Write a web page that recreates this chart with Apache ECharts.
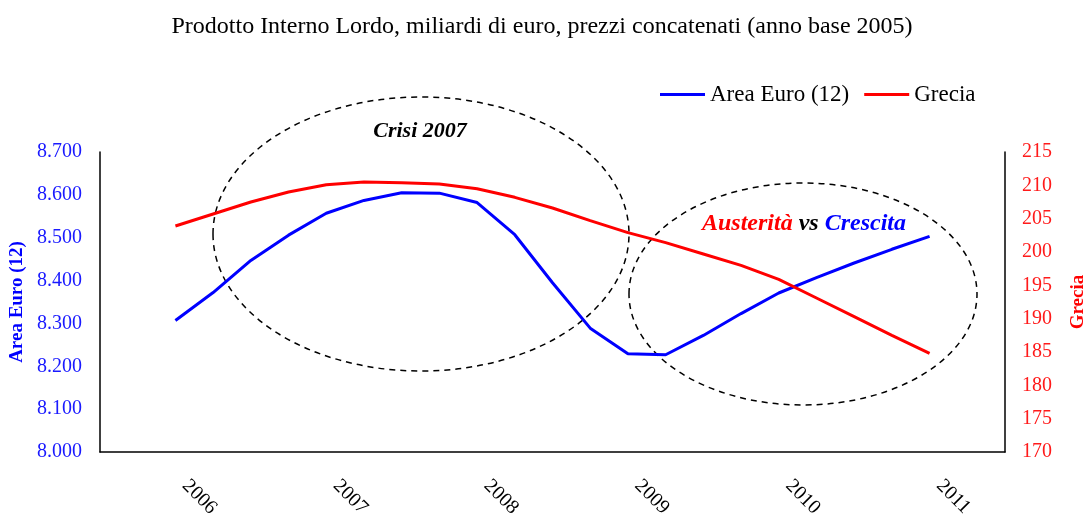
<!DOCTYPE html>
<html>
<head>
<meta charset="utf-8">
<script src="https://cdn.jsdelivr.net/npm/echarts@6/dist/echarts.min.js"></script>
<style>
  html, body { margin: 0; padding: 0; background: #fff; }
  #chart { width: 1084px; height: 520px; }
</style>
</head>
<body>
<div id="chart"></div>
<script>
// quarters on the axis (first two and last two are empty padding)
var quarters = ['2005 T3', '2005 T4',
  '2006 T1', '2006 T2', '2006 T3', '2006 T4',
  '2007 T1', '2007 T2', '2007 T3', '2007 T4',
  '2008 T1', '2008 T2', '2008 T3', '2008 T4',
  '2009 T1', '2009 T2', '2009 T3', '2009 T4',
  '2010 T1', '2010 T2', '2010 T3', '2010 T4',
  '2011 T1', '2011 T2', '2011 T3'];

// miliardi di euro, 2006 T1 .. 2011 T1
var areaEuro = [8307, 8372, 8447, 8506, 8557, 8587, 8605, 8604, 8582, 8507, 8395,
  8289, 8229, 8227, 8272, 8323, 8371, 8407, 8441, 8473, 8503];
var grecia = [203.9, 205.7, 207.5, 209.0, 210.1, 210.5, 210.4, 210.2, 209.5, 208.2, 206.6,
  204.7, 202.9, 201.4, 199.7, 198.0, 195.9, 193.1, 190.3, 187.5, 184.8];

var pad = [null, null];
var serif = '"Liberation Serif", "DejaVu Serif", serif';

function thousands(v) {
  return String(Math.round(v)).replace(/\B(?=(\d{3})+(?!\d))/g, '.');
}

var myChart = echarts.init(document.getElementById('chart'));

var option = {
  animation: false,
  textStyle: { fontFamily: serif },
  title: {
    text: 'Prodotto Interno Lordo, miliardi di euro, prezzi concatenati (anno base 2005)',
    left: 'center',
    top: 10,
    textStyle: { fontFamily: serif, fontSize: 24, fontWeight: 'normal', color: '#000' }
  },
  legend: {
    left: 655,
    top: 78,
    icon: 'rect',
    itemWidth: 45,
    itemHeight: 3,
    itemGap: 15,
    textStyle: { fontFamily: serif, fontSize: 23, color: '#000' },
    data: ['Area Euro (12)', 'Grecia']
  },
  grid: { left: 100, right: 79, top: 152, bottom: 68, containLabel: false, outerBoundsMode: 'none' },
  xAxis: {
    type: 'category',
    boundaryGap: false,
    data: quarters,
    axisLine: { lineStyle: { color: '#000', width: 1.5 } },
    axisTick: { show: false },
    axisLabel: {
      interval: function (i, name) { return /T1$/.test(name) && i >= 2 && i <= 22; },
      formatter: function (name) { return name.slice(0, 4); },
      rotate: -45,
      margin: 21,
      padding: [0, 0, 0, 14],
      color: '#000',
      fontFamily: serif,
      fontSize: 20
    },
    splitLine: { show: false }
  },
  yAxis: [{
    type: 'value',
    name: 'Area Euro (12)',
    nameLocation: 'middle',
    nameGap: 71,
    nameTextStyle: { color: '#0000ff', fontWeight: 'bold', fontSize: 19, fontFamily: serif },
    min: 8000,
    max: 8700,
    interval: 100,
    axisLine: { show: true, lineStyle: { color: '#000', width: 1.5 } },
    axisTick: { show: false },
    splitLine: { show: false },
    axisLabel: {
      color: '#1a1aff',
      fontSize: 20,
      fontFamily: serif,
      margin: 18,
      formatter: thousands
    }
  }, {
    type: 'value',
    name: 'Grecia',
    nameLocation: 'middle',
    nameGap: 64,
    nameTextStyle: { color: '#ff0000', fontWeight: 'bold', fontSize: 19, fontFamily: serif },
    min: 170,
    max: 215,
    interval: 5,
    axisLine: { show: true, lineStyle: { color: '#000', width: 1.5 } },
    axisTick: { show: false },
    splitLine: { show: false },
    axisLabel: { color: '#ff1a1a', fontSize: 20, fontFamily: serif, margin: 17 }
  }],
  series: [{
    name: 'Area Euro (12)',
    type: 'line',
    yAxisIndex: 0,
    symbol: 'none',
    color: '#0000ff',
    lineStyle: { width: 3, color: '#0000ff' },
    data: pad.concat(areaEuro, pad)
  }, {
    name: 'Grecia',
    type: 'line',
    yAxisIndex: 1,
    symbol: 'none',
    color: '#ff0000',
    lineStyle: { width: 3, color: '#ff0000' },
    data: pad.concat(grecia, pad)
  }],
  graphic: [{
    type: 'ellipse',
    shape: { cx: 421, cy: 234, rx: 208, ry: 137 },
    style: { fill: 'none', stroke: '#000', lineWidth: 1.5, lineDash: [6, 5] },
    silent: true
  }, {
    type: 'ellipse',
    shape: { cx: 803, cy: 294, rx: 174, ry: 111 },
    style: { fill: 'none', stroke: '#000', lineWidth: 1.5, lineDash: [6, 5] },
    silent: true
  }, {
    type: 'text',
    x: 420,
    y: 131,
    style: {
      text: 'Crisi 2007',
      font: 'italic bold 22px ' + serif,
      fill: '#000',
      align: 'center',
      verticalAlign: 'middle'
    }
  }, {
    type: 'text',
    x: 804,
    y: 224,
    style: {
      text: '{a|Austerità} {b|vs} {c|Crescita}',
      font: 'italic bold 24px ' + serif,
      align: 'center',
      verticalAlign: 'middle',
      rich: {
        a: { fill: '#ff0000', font: 'italic bold 24px ' + serif },
        b: { fill: '#000', font: 'italic bold 24px ' + serif },
        c: { fill: '#0000ff', font: 'italic bold 24px ' + serif }
      }
    }
  }]
};

myChart.setOption(option);
</script>
</body>
</html>
